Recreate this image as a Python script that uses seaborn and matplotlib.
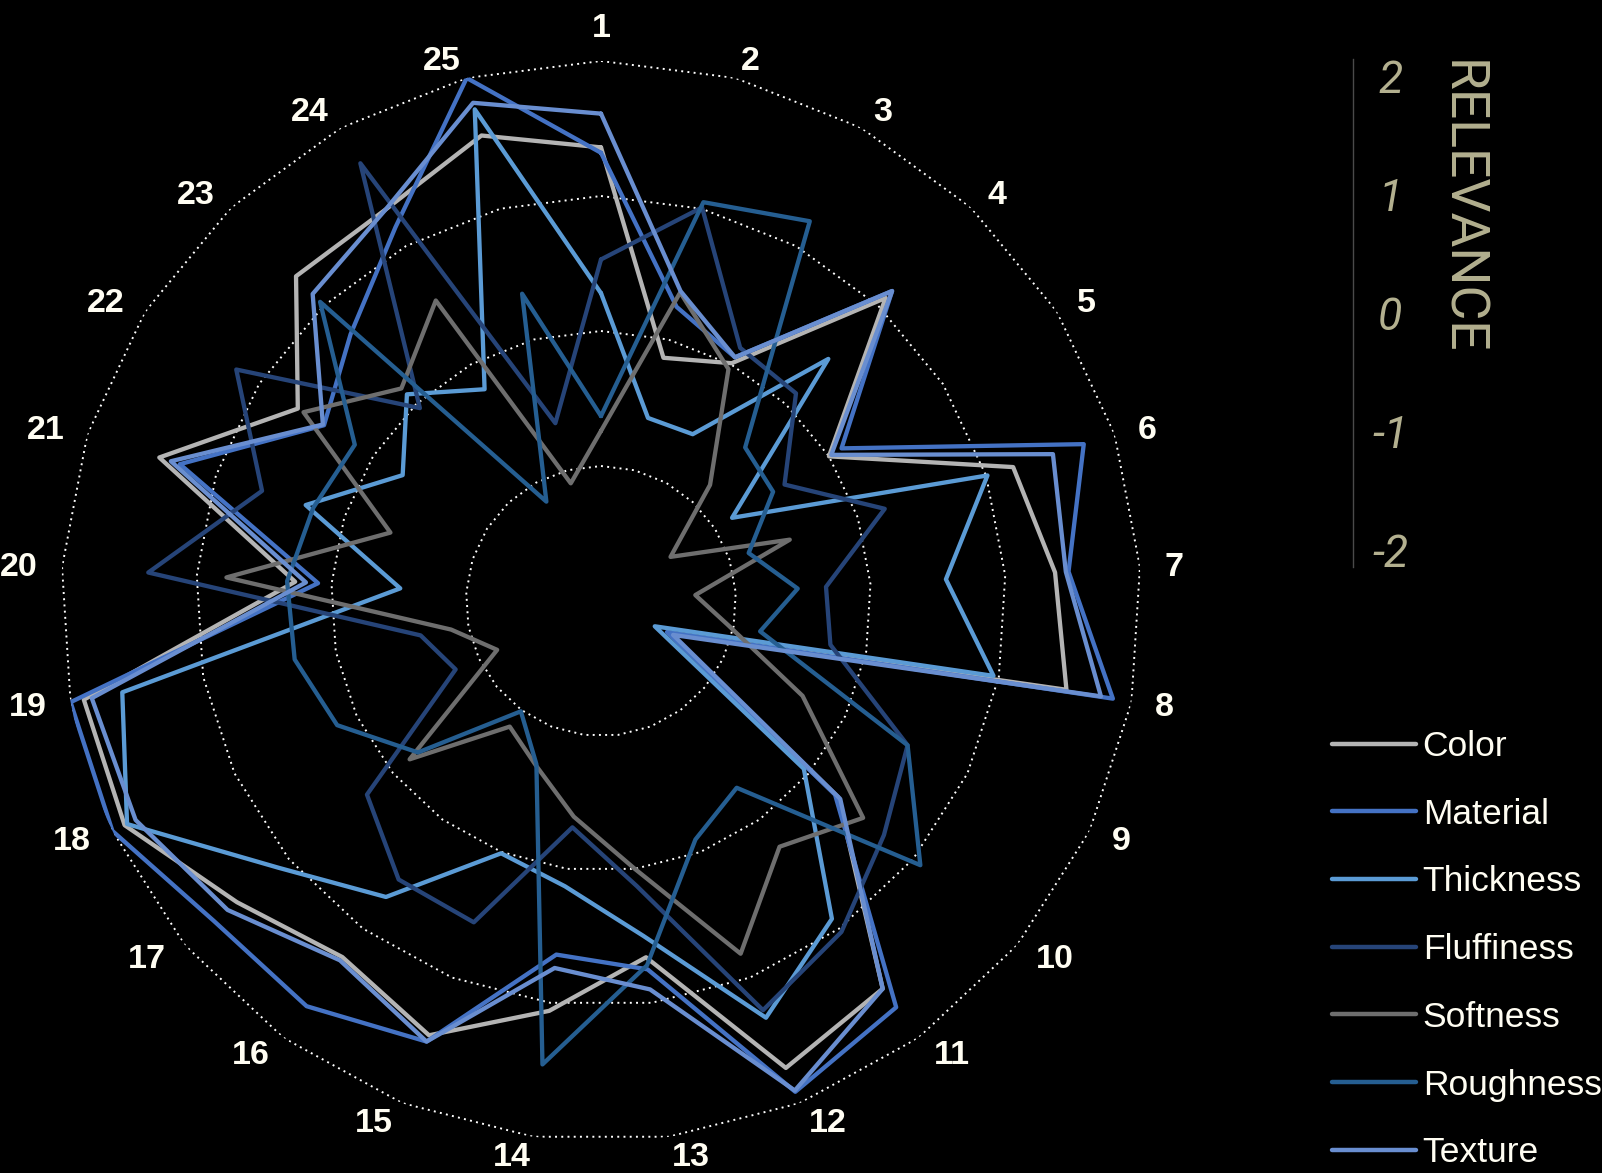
import numpy as np
import pandas as pd
import matplotlib
matplotlib.use("Agg")
import matplotlib.pyplot as plt
from matplotlib.lines import Line2D
import seaborn as sns

# Kategorien (Achsen des Netzdiagramms)
categories = ['1', '2', '3', '4', '5', '6', '7', '8', '9', '10', '11', '12', '13',
              '14', '15', '16', '17', '18', '19', '20', '21', '22', '23', '24', '25']

# Relevanz-Werte je Merkmal
color      = [1.36, -0.14, 0.01, 1.08, 0.00, 1.21, 1.37, 1.51, -1.45, 0.28, 1.55, 1.72, 0.66,
              1.06, 1.46, 1.26, 1.50, 1.90, 1.90, 0.27, 1.44, 0.66, 1.30, 1.31, 1.56]
material   = [1.32, 0.25, 0.06, 1.15, 0.11, 1.76, 1.47, 1.86, -1.46, 0.25, 1.72, 1.91, 0.75,
              0.64, 1.51, 1.71, 1.72, 2.00, 2.00, 0.10, 1.28, 0.43, 0.71, 1.16, 2.00]
thickness  = [0.28, -0.60, -0.59, 0.46, -0.85, 1.01, 0.56, 0.96, -1.56, -0.05, 0.91, 1.32, 0.50,
              0.13, 0.01, 0.71, 1.10, 1.88, 1.61, -0.51, 0.30, -0.26, 0.10, -0.21, 1.76]
fluffiness = [0.53, 1.01, 0.14, 0.11, -0.39, 0.21, -0.33, -0.27, 0.51, 0.72, 1.03, 1.26, 0.13,
              -0.31, 0.56, 0.55, 0.25, -0.81, -0.64, 1.36, 0.64, 1.20, -0.04, 1.70, -0.64]
softness   = [-0.74, 0.36, -0.04, -0.82, -1.39, -0.53, -1.30, -1.04, -0.35, 0.52, 0.25, 0.81, 0.00,
              -0.39, -0.69, -0.85, -0.16, -1.15, -0.87, 0.78, -0.36, 0.61, 0.16, 0.54, -1.10]
roughness  = [-0.63, 1.05, 1.21, -0.44, -0.49, -0.85, -0.54, -0.80, 0.51, 1.07, -0.29, -0.10, 0.72,
              1.46, -0.70, -0.99, -0.24, 0.16, 0.31, 0.33, 0.24, 0.16, 1.04, -1.16, 0.35]
texture    = [1.61, 0.37, 0.06, 1.15, 0.02, 1.52, 1.45, 1.77, -1.41, 0.30, 1.55, 1.90, 0.90,
              0.74, 1.51, 1.29, 1.59, 1.81, 1.84, 0.19, 1.35, 0.44, 1.12, 1.31, 1.81]

series_names = ['Color', 'Material', 'Thickness', 'Fluffiness', 'Softness', 'Roughness', 'Texture']
series_values = [color, material, thickness, fluffiness, softness, roughness, texture]
series_colors = ['#b4b4b4', '#4472c4', '#5b9bd5', '#264478', '#6e6e6e', '#255e91', '#698ed0']

ring_levels = [-1, 0, 1, 2]
relevance_ticks = [2, 1, 0, -1, -2]
relevance_labels = ['2', '1', '0', '-1', '-2']

W, H = 1602, 1173
label_col = '#fffdf2'
khaki = '#b3b08f'
label_pt = 24.5

sns.set_style("white")
plt.rcParams['font.family'] = ['Liberation Sans', 'DejaVu Sans']

# Winkel fuer die 25 Achsen, Polygon geschlossen
n = len(categories)
angles = np.linspace(0, 2 * np.pi, n, endpoint=False)
closed_angles = np.append(angles, 2 * np.pi)

rows = []
for name, vals in zip(series_names, series_values):
    for a, v in zip(closed_angles, vals + vals[:1]):
        rows.append((name, a, v))
df = pd.DataFrame(rows, columns=['series', 'theta', 'relevance'])

fig = plt.figure(figsize=(W / 100, H / 100), dpi=100, facecolor='black')
ax = fig.add_axes([61 / W, (H - 1141) / H, 1080 / W, 1080 / H], projection='polar')
ax.set_facecolor('black')
ax.set_theta_zero_location('N')
ax.set_theta_direction(-1)
ax.grid(False)
ax.spines['polar'].set_visible(False)

# gepunktete Polygon-Gitterlinien
for level in ring_levels:
    ax.plot(closed_angles, [level] * (n + 1), color='white', lw=1.4,
            ls=(0, (1, 2.2)), zorder=1)

sns.lineplot(data=df, x='theta', y='relevance', hue='series', hue_order=series_names,
             palette=dict(zip(series_names, series_colors)), sort=False, estimator=None,
             lw=3.1, legend=False, ax=ax, zorder=3)

ax.set_ylim(-2, 2)
ax.set_xticks([])
ax.set_yticks([])
ax.set_xlabel('')
ax.set_ylabel('')

# Achsenbeschriftung: Text liegt aussen am Ankerpunkt an (wie in Excel)
cx, cy = ax.transData.transform((0, -2))
_, top = ax.transData.transform((0, 2.18))
rad = top - cy
label_px = label_pt * 100 / 72
for a, lab in zip(angles, categories):
    s, c = np.sin(a), np.cos(a)
    half_w = len(lab) * 0.556 * label_px / 2
    side = 0 if abs(s) < 1e-6 else np.sign(s)
    x = cx + rad * s + side * half_w
    y = cy + (rad - 5) * c - 2
    va = 'bottom' if side == 0 else 'center'
    fig.text(x / W, y / H, lab, ha='center', va=va, color=label_col,
             fontsize=label_pt, fontweight='bold')

# Relevanz-Skala rechts
rax = fig.add_axes([1352 / W, (H - 567) / H, 0.0005, 508 / H])
rax.set_facecolor('none')
rax.set_ylim(-2.143, 2.143)
rax.set_xticks([])
for s in ['top', 'bottom', 'left']:
    rax.spines[s].set_visible(False)
rax.spines['right'].set_color('#4a4a4a')
rax.spines['right'].set_linewidth(1)
rax.yaxis.tick_right()
rax.set_yticks(relevance_ticks)
rax.set_yticklabels(relevance_labels, family=['Roboto', 'DejaVu Sans'], style='italic')
rax.tick_params(axis='y', length=0, pad=27, labelcolor=khaki, labelsize=32)
for t in rax.get_yticklabels():
    t.set_ha('center')

fig.text(1461 / W, 1 - 60 / H, 'RELEVANCE', rotation=270, ha='center', va='top',
         color=khaki, fontsize=38.5, family=['Roboto', 'DejaVu Sans'])

handles = [Line2D([], [], color=c, lw=3.2, solid_capstyle='round') for c in series_colors]
fig.legend(handles, series_names, loc='upper left', bbox_to_anchor=(1332 / W, 1 - 730 / H),
           frameon=False, fontsize=25.5, labelcolor=label_col, handlelength=2.36,
           handletextpad=0.2, labelspacing=0.98, borderpad=0, borderaxespad=0)

fig.savefig('out.png', dpi=100, facecolor='black')
